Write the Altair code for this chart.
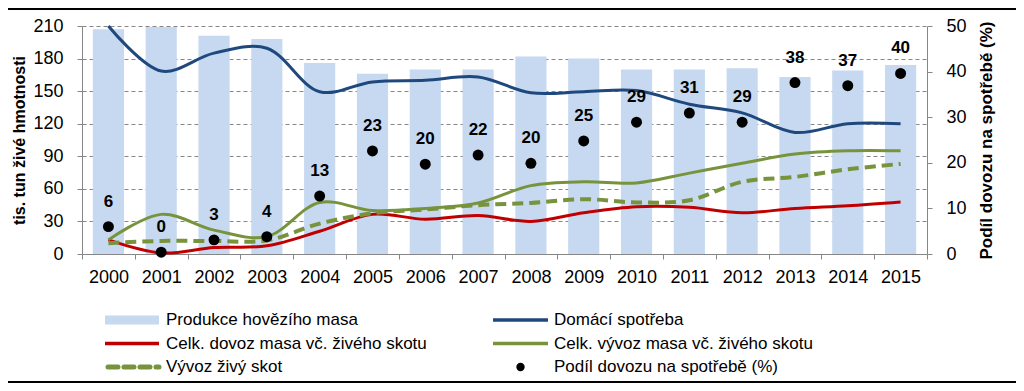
import altair as alt
import pandas as pd

# ---------------- data ----------------
years = [str(y) for y in range(2000, 2016)]
produkce = [207, 209, 201, 198, 176, 166, 170, 170, 182, 180, 170, 170, 171, 163, 169, 174]
spotreba = [210, 168.5, 185, 189.5, 149.5, 158.5, 160, 163, 148.5, 149.5, 150.5, 138, 130, 112, 120, 120]
dovoz = [13, 1, 6, 7.5, 21, 36.5, 32, 35.5, 30, 38, 43.5, 43, 38, 42, 44.5, 48]
vyvoz = [13, 36.5, 22, 16, 47.5, 40, 42, 47, 63, 66.5, 65.5, 74.5, 83.5, 92, 95, 95]
vyvoz_zivy = [10, 12, 12, 12.5, 28, 37.5, 41, 45, 47, 50.5, 47.5, 49.5, 66.5, 71, 78, 83]
podil = [6.0, 0.4, 3.1, 3.8, 12.7, 22.6, 19.7, 21.7, 19.9, 24.8, 28.9, 30.9, 28.9, 37.6, 36.9, 39.6]

left_ticks = [0, 30, 60, 90, 120, 150, 180, 210]
right_ticks = [0, 10, 20, 30, 40, 50]

left_title = "tis. tun živé hmotnosti"
right_title = "Podíl dovozu na spotřebě (%)"
legend_labels = [
    "Produkce hovězího masa",
    "Domácí spotřeba",
    "Celk. dovoz masa vč. živého skotu",
    "Celk. vývoz masa vč. živého skotu",
    "Vývoz živý skot",
    "Podíl dovozu na spotřebě (%)",
]

df = pd.DataFrame({
    "year": years,
    "produkce": produkce,
    "spotreba": spotreba,
    "dovoz": dovoz,
    "vyvoz": vyvoz,
    "vyvoz_zivy": vyvoz_zivy,
    "podil": podil,
})

FONT = "Liberation Sans"
C_BAR = "#C6D9F1"
C_BLUE = "#1F497D"
C_RED = "#C00000"
C_GREEN = "#77933C"
C_AXIS = "#868686"

# ---------------- scales / axes ----------------
X = alt.X(
    "year:O", title=None,
    scale=alt.Scale(paddingInner=0, paddingOuter=0),
    axis=alt.Axis(labelAngle=0, tickBand="extent", domainColor=C_AXIS, tickColor=C_AXIS,
                  tickSize=5, labelPadding=9, labelFontSize=18, labelColor="black",
                  labelFont=FONT),
)

YL_scale = alt.Scale(domain=[0, 210], nice=False)
left_axis = alt.Axis(
    values=left_ticks, title=left_title, grid=True, gridDash=[4, 3], gridColor=C_AXIS,
    gridWidth=1, domainColor=C_AXIS, tickColor=C_AXIS, tickSize=5, labelPadding=14,
    labelFontSize=18, labelColor="black", labelFont=FONT, titleFont=FONT,
    titleFontSize=16, titleFontWeight="bold", titleColor="black", titlePadding=5,
)

YR_scale = alt.Scale(domain=[0, 50], nice=False)
right_axis = alt.Axis(
    orient="right", values=right_ticks, title=right_title, grid=False,
    domainColor=C_AXIS, tickColor=C_AXIS, tickSize=5, labelPadding=14,
    labelFontSize=18, labelColor="black", labelFont=FONT, titleFont=FONT,
    titleFontSize=17, titleFontWeight="bold", titleColor="black", titlePadding=12,
    titleAngle=270, titleBaseline="top",
)

base = alt.Chart(df)

bars = base.mark_bar(color=C_BAR, width=alt.RelativeBandSize(0.59)).encode(
    x=X, y=alt.Y("produkce:Q", scale=YL_scale, axis=left_axis)
)


def line(field, color, dash=None, width=3):
    kw = dict(color=color, strokeWidth=width, interpolate="catmull-rom")
    if dash:
        kw["strokeDash"] = dash
    return base.mark_line(**kw).encode(
        x=X, y=alt.Y(f"{field}:Q", scale=YL_scale, axis=left_axis)
    )


left = alt.layer(
    bars,
    line("dovoz", C_RED),
    line("vyvoz_zivy", C_GREEN, dash=[11, 6], width=4),
    line("vyvoz", C_GREEN),
    line("spotreba", C_BLUE),
)

pts = base.mark_circle(color="black", size=120, opacity=1).encode(
    x=X, y=alt.Y("podil:Q", scale=YR_scale, axis=right_axis)
)
lbls = base.mark_text(dy=-25, fontWeight="bold", fontSize=17, font=FONT, color="black").encode(
    x=X, y=alt.Y("podil:Q", scale=YR_scale, axis=right_axis),
    text=alt.Text("podil:Q", format=".0f"),
)
right = alt.layer(pts, lbls)

# ---------------- legend (manual) ----------------
def one(label):
    return alt.Chart(alt.Data(values=[{"label": label}]))


row_y = [294, 317.5, 341]
col_sw = [(23, 77), (411, 466)]
col_tx = [84, 472]

leg = []
# row 1 col 1: bar swatch
leg.append(one(legend_labels[0]).mark_rect(color=C_BAR).encode(
    x=alt.value(col_sw[0][0]), x2=alt.value(col_sw[0][1]),
    y=alt.value(row_y[0] - 4.5), y2=alt.value(row_y[0] + 4.5)))
# row 1 col 2: blue line
leg.append(one(legend_labels[1]).mark_rule(color=C_BLUE, strokeWidth=3.5).encode(
    x=alt.value(col_sw[1][0]), x2=alt.value(col_sw[1][1]), y=alt.value(row_y[0])))
# row 2 col 1: red line
leg.append(one(legend_labels[2]).mark_rule(color=C_RED, strokeWidth=3.5).encode(
    x=alt.value(col_sw[0][0]), x2=alt.value(col_sw[0][1]), y=alt.value(row_y[1])))
# row 2 col 2: green line
leg.append(one(legend_labels[3]).mark_rule(color=C_GREEN, strokeWidth=3.5).encode(
    x=alt.value(col_sw[1][0]), x2=alt.value(col_sw[1][1]), y=alt.value(row_y[1])))
# row 3 col 1: green dashed
leg.append(one(legend_labels[4]).mark_rule(color=C_GREEN, strokeWidth=5, strokeDash=[10, 6],
                                             strokeCap="round").encode(
    x=alt.value(col_sw[0][0] + 3), x2=alt.value(col_sw[0][1]), y=alt.value(row_y[2])))
# row 3 col 2: dot
leg.append(one(legend_labels[5]).mark_circle(color="black", size=70, opacity=1).encode(
    x=alt.value((col_sw[1][0] + col_sw[1][1]) / 2), y=alt.value(row_y[2])))

positions = [(0, 0), (1, 0), (0, 1), (1, 1), (0, 2), (1, 2)]
for lab, (c, r) in zip(legend_labels, positions):
    leg.append(one(lab).mark_text(align="left", baseline="middle", fontSize=17, font=FONT,
                                  color="black").encode(
        x=alt.value(col_tx[c]), y=alt.value(row_y[r]), text="label:N"))

# frame lines (top and bottom)
leg.append(one("top").mark_rule(color="black", strokeWidth=2).encode(
    x=alt.value(-74), x2=alt.value(934), y=alt.value(-17)))
leg.append(one("bottom").mark_rule(color="black", strokeWidth=2).encode(
    x=alt.value(-74), x2=alt.value(934), y=alt.value(356)))

chart = alt.layer(left, right, *leg).resolve_scale(y="independent").properties(
    width=845, height=228,
    autosize=alt.AutoSizeParams(type="none"),
    padding={"left": 74, "top": 18, "right": 89, "bottom": 129},
).configure_view(stroke=None)

chart.save("out.html", embed_options={"renderer": "svg", "actions": False})
